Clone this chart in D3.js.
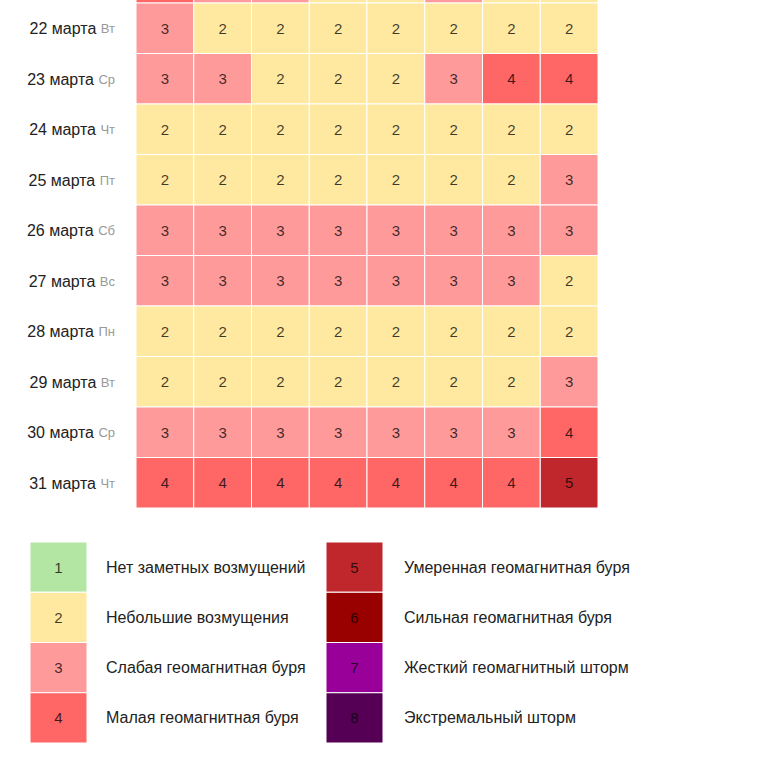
<!DOCTYPE html>
<html><head><meta charset="utf-8">
<script src="https://cdn.jsdelivr.net/npm/d3@7"></script>
<style>body{margin:0;background:#fff;}svg{display:block;font-family:"Liberation Sans",Arial,sans-serif;}</style>
</head><body>
<svg id="c" width="770" height="760"></svg>
<script>
const days = ["21 марта","22 марта","23 марта","24 марта","25 марта","26 марта","27 марта","28 марта","29 марта","30 марта","31 марта"];
const weekdays = ["Пн","Вт","Ср","Чт","Пт","Сб","Вс","Пн","Вт","Ср","Чт"];
const slots = [0,1,2,3,4,5,6,7];
const kp = [
  [4,3,3,2,2,3,2,2],
  [3,2,2,2,2,2,2,2],
  [3,3,2,2,2,3,4,4],
  [2,2,2,2,2,2,2,2],
  [2,2,2,2,2,2,2,3],
  [3,3,3,3,3,3,3,3],
  [3,3,3,3,3,3,3,2],
  [2,2,2,2,2,2,2,2],
  [2,2,2,2,2,2,2,3],
  [3,3,3,3,3,3,3,4],
  [4,4,4,4,4,4,4,5]
];
const levels = [1,2,3,4,5,6,7,8];
const levelColors = ["#b3e6a3","#ffe9a0","#ff9a9a","#ff6666","#c0272d","#990000","#990099","#550055"];
const levelNames = ["Нет заметных возмущений","Небольшие возмущения","Слабая геомагнитная буря","Малая геомагнитная буря",
  "Умеренная геомагнитная буря","Сильная геомагнитная буря","Жесткий геомагнитный шторм","Экстремальный шторм"];

const svg = d3.select("#c");
const color = d3.scaleOrdinal().domain(levels).range(levelColors);
const x = d3.scaleBand().domain(slots).range([136, 598]);
const y = d3.scaleBand().domain(days).range([3 - 50.5, 508]);

const cells = [];
kp.forEach((row, i) => row.forEach((v, j) => cells.push({day: days[i], slot: slots[j], v})));
const visible = d => y(d) + y.bandwidth()/2 > 0;

const g = svg.append("g");
g.selectAll("rect").data(cells).join("rect")
  .attr("x", d => x(d.slot)).attr("y", d => y(d.day))
  .attr("width", x.bandwidth()).attr("height", y.bandwidth())
  .attr("fill", d => color(d.v)).attr("stroke", "#fff").attr("stroke-width", 1);
g.selectAll("text").data(cells.filter(d => visible(d.day))).join("text")
  .attr("x", d => x(d.slot) + x.bandwidth()/2).attr("y", d => y(d.day) + y.bandwidth()/2)
  .attr("text-anchor", "middle").attr("dominant-baseline", "central")
  .attr("font-size", 15).attr("fill", "#000").attr("fill-opacity", 0.75)
  .text(d => d.v);

const labDays = days.map((d, i) => ({d, w: weekdays[i]})).filter(o => visible(o.d));
const lab = svg.append("g").selectAll("text").data(labDays).join("text")
  .attr("x", 115).attr("y", o => y(o.d) + y.bandwidth()/2)
  .attr("text-anchor", "end").attr("dominant-baseline", "central");
lab.append("tspan").attr("font-size", 16).attr("fill", "#222").text(o => o.d + " ");
lab.append("tspan").attr("font-size", 13).attr("fill", "#999").text(o => o.w);

// legend
const lx = d3.scaleOrdinal().domain([0,1]).range([30, 326]);
const ly = d3.scaleBand().domain([0,1,2,3]).range([542, 743]);
const leg = svg.append("g").selectAll("g").data(levels).join("g")
  .attr("transform", (d, i) => `translate(${lx(Math.floor(i/4))},${ly(i%4)})`);
leg.append("rect").attr("width", 57).attr("height", ly.bandwidth())
  .attr("fill", d => color(d)).attr("stroke", "#fff").attr("stroke-width", 1);
leg.append("text").attr("x", 28.5).attr("y", ly.bandwidth()/2)
  .attr("text-anchor", "middle").attr("dominant-baseline", "central")
  .attr("font-size", 15).attr("fill", "#000").attr("fill-opacity", 0.75).text(d => d);
leg.append("text").attr("x", (d, i) => i < 4 ? 76 : 78).attr("y", ly.bandwidth()/2)
  .attr("dominant-baseline", "central").attr("font-size", 16).attr("fill", "#222")
  .text((d, i) => levelNames[i]);
</script>
</body></html>
